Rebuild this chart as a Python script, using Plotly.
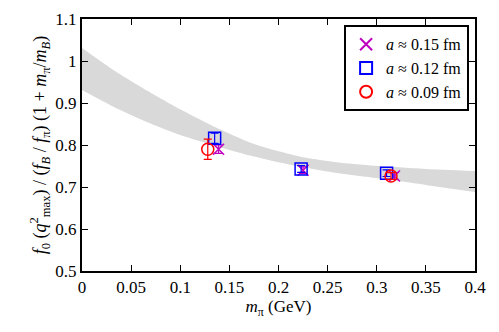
import plotly.graph_objects as go

# Band (fit error band)
band_x = [0.0, 0.033, 0.066, 0.1, 0.13, 0.171, 0.2, 0.225, 0.263, 0.303, 0.35, 0.4]
band_upper = [1.031, 0.977, 0.930, 0.885, 0.849, 0.806, 0.785, 0.771, 0.758, 0.750, 0.743, 0.738]
band_lower = [0.931, 0.890, 0.855, 0.824, 0.802, 0.775, 0.759, 0.747, 0.732, 0.720, 0.705, 0.688]

# Data series
a15_x = [0.139, 0.225, 0.318]
a15_y = [0.790, 0.740, 0.726]
a15_err = [0.010, 0.008, 0.008]

a12_x = [0.135, 0.223, 0.310]
a12_y = [0.816, 0.743, 0.733]
a12_err = [0.012, 0.008, 0.008]

a09_x = [0.128, 0.3145]
a09_y = [0.790, 0.726]
a09_err = [0.024, 0.008]

labels = ["<i>a</i> ≈ 0.15 fm", "<i>a</i> ≈ 0.12 fm", "<i>a</i> ≈ 0.09 fm"]
colors = ["#bf00bf", "#0000ff", "#ff0000"]

FONT = "Liberation Serif"

fig = go.Figure()
fig.add_trace(go.Scatter(x=band_x, y=band_upper, mode="lines", line=dict(width=0, shape="spline", smoothing=0.6),
                         showlegend=False, hoverinfo="skip"))
fig.add_trace(go.Scatter(x=band_x, y=band_lower, mode="lines", line=dict(width=0, shape="spline", smoothing=0.6),
                         fill="tonexty", fillcolor="#d9d9d9", showlegend=False, hoverinfo="skip"))

series = [
    (a15_x, a15_y, a15_err, "x-thin-open", 11),
    (a12_x, a12_y, a12_err, "square-open", 12),
    (a09_x, a09_y, a09_err, "circle-open", 12),
]
for (xs, ys, es, sym, sz), lab, col in zip(series, labels, colors):
    fig.add_trace(go.Scatter(
        x=xs, y=ys, mode="markers", name=lab,
        marker=dict(symbol=sym, size=sz, color=col, line=dict(color=col, width=1.5)),
        error_y=dict(type="data", array=es, color=col, thickness=1.2, width=4),
    ))

axis_common = dict(showline=True, linecolor="black", linewidth=2, mirror="ticks",
                   ticks="inside", ticklen=6, tickwidth=1, tickcolor="black",
                   showgrid=False, zeroline=False, automargin=False,
                   tickfont=dict(family=FONT, size=17, color="black"))

fig.update_xaxes(range=[0, 0.4], tickvals=[0, 0.05, 0.1, 0.15, 0.2, 0.25, 0.3, 0.35, 0.4],
                 ticktext=["0", "0.05", "0.1", "0.15", "0.2", "0.25", "0.3", "0.35", "0.4"],
                 title=dict(text="<i>m</i><sub>π</sub> (GeV)", font=dict(family=FONT, size=17, color="black"),
                            standoff=2),
                 **axis_common)
fig.update_yaxes(range=[0.5, 1.1], tickvals=[0.5, 0.6, 0.7, 0.8, 0.9, 1.0, 1.1],
                 ticktext=["0.5", "0.6", "0.7", "0.8", "0.9", "1", "1.1"],
                 title=dict(text="<i>f</i><sub>0</sub> (<i>q</i><sup>2</sup><sub>max</sub>) / (<i>f<sub>B</sub></i> / <i>f</i><sub>π</sub>) (1 + <i>m</i><sub>π</sub>/<i>m<sub>B</sub></i>)",
                            font=dict(family=FONT, size=18, color="black"), standoff=4),
                 **axis_common)

fig.update_layout(
    width=499, height=332,
    margin=dict(l=82, r=24, t=19, b=61),
    plot_bgcolor="white", paper_bgcolor="white",
    font=dict(family=FONT, size=17, color="black"),
    legend=dict(x=0.985, y=0.975, xanchor="right", yanchor="top",
                traceorder="normal",
                bordercolor="black", borderwidth=2, bgcolor="white",
                font=dict(family=FONT, size=16, color="black"),
                itemsizing="constant", tracegroupgap=0),
)

fig.write_html("out.html", config={"displayModeBar": False},
               post_script="document.body.style.margin='0px';document.body.style.overflow='hidden';")
